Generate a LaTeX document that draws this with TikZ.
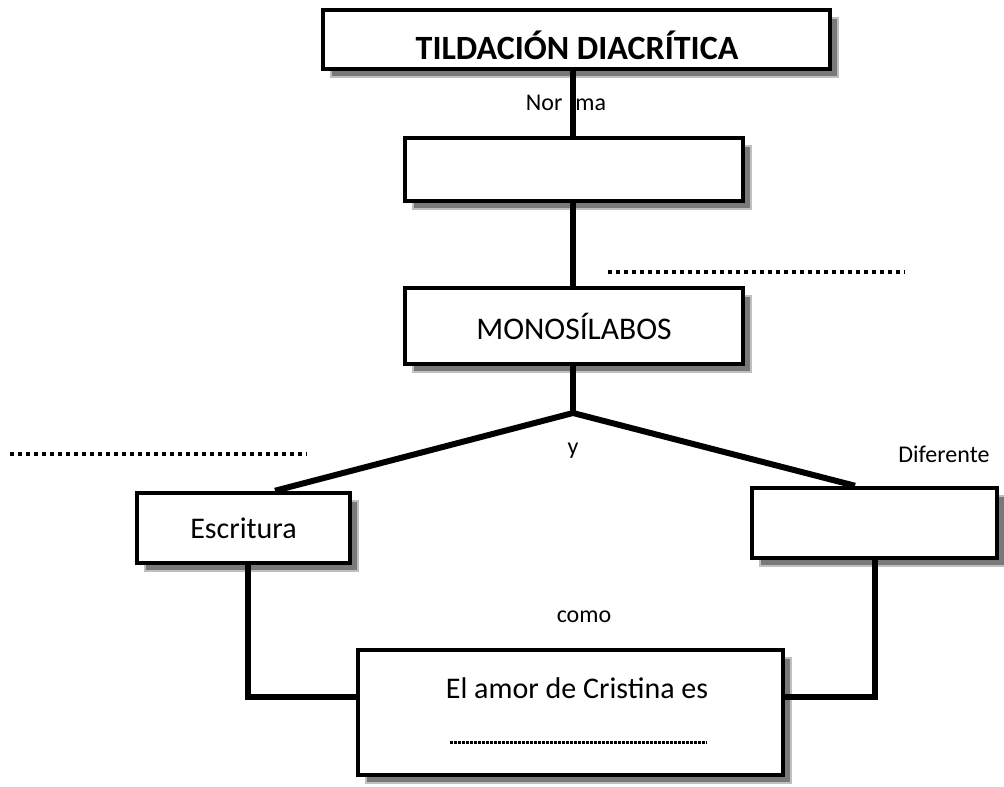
\documentclass[tikz,border=0pt]{standalone}
\usepackage{fontspec}
\setmainfont{Carlito}
\usetikzlibrary{shadows}
\tikzset{
  box/.style={draw=black, line width=4.5pt, fill=white, inner sep=0pt,
    drop shadow={shadow xshift=8pt, shadow yshift=-8pt, fill=gray!95!black, draw=gray!50, line width=1.2pt, opacity=1}},
  conn/.style={line width=6pt, line cap=butt},
  dots/.style={line width=4pt, dash pattern=on 4pt off 4pt},
  finedots/.style={line width=3pt, dash pattern=on 2.5pt off 1.5pt},
  lbl/.style={inner sep=0pt, font=\fontsize{24}{27}\selectfont},
  big/.style={font=\fontsize{30}{34}\selectfont}
}
\begin{document}
\begin{tikzpicture}[x=1pt, y=-1pt]
\useasboundingbox (0,0) rectangle (1004,787);
\fill[white] (0,0) rectangle (1004,787);
% boxes
\node[box, minimum width=507pt, minimum height=59pt] (title) at (576.5,39.5) {};
\node[inner sep=0pt, font=\fontsize{34}{38}\selectfont\bfseries] (ttext) at (577,45) {TILDACIÓN DIACRÍTICA};
\node[box, minimum width=338pt, minimum height=63pt] (box2) at (574,169.5) {};
\node[box, font=\fontsize{31.5}{35}\selectfont, minimum width=338pt, minimum height=76pt] (mono) at (574,326) {MONOSÍLABOS};
\node[box, big, minimum width=213pt, minimum height=70pt] (esc) at (243.5,528) {Escritura};
\node[box, minimum width=245pt, minimum height=70pt] (rb) at (874.5,523) {};
\node[box, minimum width=425pt, minimum height=125pt] (bot) at (570.5,712.5) {};
\node[big, inner sep=0pt] (amor) at (577,688) {El amor de Cristina es};
% coordinates
\coordinate (c) at (573,0);
\coordinate (fork) at (573,413);
\coordinate (jl) at (248,697);
\coordinate (jr) at (875,697);
% labels
\node[lbl] (norma) at (566,103) {Nor\hspace{13pt}ma};
\node[lbl] (y) at (573,451) {y};
\node[lbl] (dif) at (944,454) {Diferente};
\node[lbl] (como) at (584,617) {como};
% connectors
\draw[conn] (title.south -| c) -- (box2.north -| c);
\draw[conn] (box2.south -| c) -- (mono.north -| c);
\draw[conn] (mono.south -| c) -- (fork);
\draw[conn, line join=miter] (esc.north -| 275,0) -- (fork) -- (rb.north -| 855,0);
\draw[conn, line join=miter] (esc.south -| jl) |- (bot.west |- jl);
\draw[conn, line join=miter] (rb.south -| jr) |- (bot.east |- jr);
% dotted blanks
\coordinate (d1a) at (10,454); \coordinate (d1b) at (307,454);
\coordinate (d2a) at (608,272); \coordinate (d2b) at (905,272);
\coordinate (d3a) at (450,742); \coordinate (d3b) at (707,742);
\draw[dots] (d1a) -- (d1b);
\draw[dots] (d2a) -- (d2b);
\draw[finedots] (d3a) -- (d3b);
\end{tikzpicture}
\end{document}
